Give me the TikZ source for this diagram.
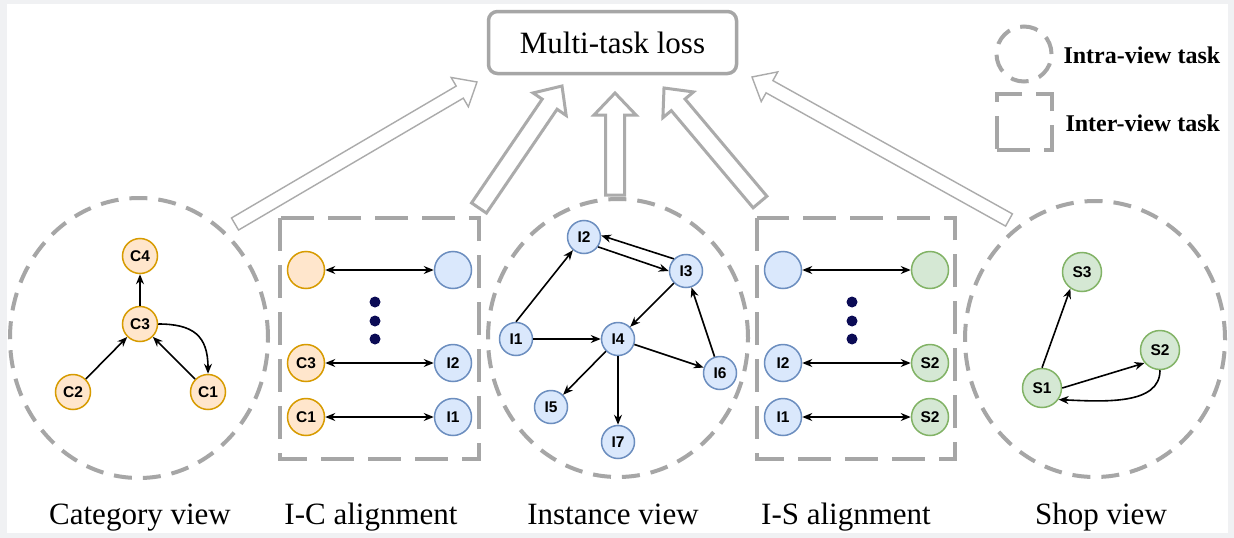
\documentclass[tikz,border=0pt]{standalone}
\usepackage{fontspec}
\setmainfont{Liberation Serif}
\newfontfamily\nodefont{Liberation Sans}
\usetikzlibrary{calc,arrows.meta}
\definecolor{dgray}{HTML}{A6A6A6}
\definecolor{agray}{HTML}{ABABAB}
\definecolor{ofill}{HTML}{FFE6CC}
\definecolor{odraw}{HTML}{D79B00}
\definecolor{bfill}{HTML}{DAE8FC}
\definecolor{bdraw}{HTML}{6C8EBF}
\definecolor{gfill}{HTML}{D5E8D4}
\definecolor{gdraw}{HTML}{82B366}
\definecolor{bgframe}{HTML}{F0F1F3}
\definecolor{navy}{HTML}{0B0B55}
\tikzset{
 vnode/.style={circle, line width=1.5pt, inner sep=0pt, font=\nodefont\bfseries\fontsize{15.5}{15.5}\selectfont},
 cat/.style={vnode, fill=ofill, draw=odraw, minimum size=35pt},
 ins/.style={vnode, fill=bfill, draw=bdraw, minimum size=33pt},
 shp/.style={vnode, fill=gfill, draw=gdraw, minimum size=39pt},
 acat/.style={cat, minimum size=37pt},
 ains/.style={ins, minimum size=37pt},
 ashp/.style={shp, minimum size=37pt},
 arr/.style={line width=1.6pt, -{Stealth[length=10pt,width=8pt]}},
 barr/.style={line width=1.6pt, {Stealth[length=10pt,width=8pt]}-{Stealth[length=10pt,width=8pt]}},
 viewring/.style={draw=dgray, line width=4pt, dash pattern=on 18pt off 11pt},
 taskbox/.style={draw=dgray, line width=4pt, dash pattern=on 33pt off 14pt},
 thinarrow/.style={draw=agray, line width=1.4pt, fill=white, line join=miter},
 thickarrow/.style={draw=agray, line width=3pt, fill=white, line join=miter},
 lbl/.style={font=\fontsize{31}{31}\selectfont, anchor=base},
 leg/.style={font=\bfseries\fontsize{24}{24}\selectfont, anchor=base west},
 blob/.style={circle, fill=navy, inner sep=0pt, minimum size=11pt},
}
% style, tail, tip, half shaft, half head, head length
\newcommand{\blockarr}[6]{%
 \coordinate (#2-#3-b) at ($(#3)!#6!(#2)$);
 \draw[#1] ($(#2)!#4!90:(#3)$) -- ($(#2-#3-b)!#4!90:(#3)$) -- ($(#2-#3-b)!#5!90:(#3)$)
   -- (#3) -- ($(#2-#3-b)!#5!-90:(#3)$) -- ($(#2-#3-b)!#4!-90:(#3)$) -- ($(#2)!#4!-90:(#3)$) -- cycle;
}
\begin{document}
\begin{tikzpicture}[x=1pt,y=-1pt]
\useasboundingbox (0,0) rectangle (1234,538);
\fill[bgframe] (0,0) rectangle (1234,538);
\fill[white] (7,4) rectangle (1228,533);

% view rings and task boxes
\draw[viewring] (139,338) ellipse [x radius=129pt, y radius=140pt];
\draw[viewring] (618,338) ellipse [x radius=130pt, y radius=139pt];
\draw[viewring] (1095,339) ellipse [x radius=130pt, y radius=138pt];
\draw[taskbox] (280,218) rectangle (479,459);
\draw[taskbox] (757,218) rectangle (955,459);

% loss box
\node[draw=dgray, line width=3.5pt, rounded corners=9pt, minimum width=248pt, minimum height=62pt,
  font=\fontsize{31}{31}\selectfont] (loss) at (612.5,42.5) {Multi-task loss};

% block arrows
\coordinate (a1t) at (235,224); \coordinate (a1p) at (477,82);
\coordinate (a2t) at (479,208); \coordinate (a2p) at (562,86);
\coordinate (a3t) at (615,195); \coordinate (a3p) at (615,93);
\coordinate (a4t) at (760,202); \coordinate (a4p) at (664,88);
\coordinate (a5t) at (1009,220); \coordinate (a5p) at (752,77);
\blockarr{thinarrow}{a1t}{a1p}{7pt}{17pt}{20pt}
\blockarr{thickarrow}{a2t}{a2p}{9pt}{20pt}{22pt}
\blockarr{thickarrow}{a3t}{a3p}{9.5pt}{21pt}{22pt}
\blockarr{thickarrow}{a4t}{a4p}{9pt}{20pt}{22pt}
\blockarr{thinarrow}{a5t}{a5p}{7pt}{17pt}{20pt}

% category view
\node[cat] (C4) at (140,256) {C4};
\node[cat] (C3) at (140,324) {C3};
\node[cat] (C2) at (73,392) {C2};
\node[cat] (C1) at (208,392) {C1};
\draw[arr] (C3) -- (C4);
\draw[arr] (C2) -- (C3);
\draw[arr] (C1) -- (C3);
\draw[arr] (C3.east) .. controls +(35,0) and +(0,-38) .. (C1.north);

% I-C alignment
\node[acat] (icl1) at (306,270) {};
\node[ains] (icr1) at (453,270) {};
\node[acat] (icl2) at (306,363) {C3};
\node[ains] (icr2) at (453,363) {I2};
\node[acat] (icl3) at (306,417) {C1};
\node[ains] (icr3) at (453,417) {I1};
\draw[barr] (icl1) -- (icr1);
\draw[barr] (icl2) -- (icr2);
\draw[barr] (icl3) -- (icr3);
\node[blob] (icd1) at (375,302) {};
\node[blob] (icd2) at (375,321) {};
\node[blob] (icd3) at (375,339) {};

% instance view
\node[ins] (I2) at (584,237) {I2};
\node[ins] (I3) at (686,271) {I3};
\node[ins] (I1) at (516,339) {I1};
\node[ins] (I4) at (618,339) {I4};
\node[ins] (I6) at (720,373) {I6};
\node[ins] (I5) at (551,407) {I5};
\node[ins] (I7) at (618,442) {I7};
\draw[arr] (I1.north) -- (I2.230);
\draw[arr] (I3.135) -- (I2.5);
\draw[arr] (I2.-35) -- (I3.180);
\draw[arr] (I1) -- (I4);
\draw[arr] (I3) -- (I4);
\draw[arr] (I4) -- (I5);
\draw[arr] (I4) -- (I7);
\draw[arr] (I4) -- (I6);
\draw[arr] (I6) -- (I3);

% I-S alignment
\node[ains] (isl1) at (783,270) {};
\node[ashp] (isr1) at (930,270) {};
\node[ains] (isl2) at (783,363) {I2};
\node[ashp] (isr2) at (930,363) {S2};
\node[ains] (isl3) at (783,417) {I1};
\node[ashp] (isr3) at (930,417) {S2};
\draw[barr] (isl1) -- (isr1);
\draw[barr] (isl2) -- (isr2);
\draw[barr] (isl3) -- (isr3);
\node[blob] (isd1) at (852,302) {};
\node[blob] (isd2) at (852,321) {};
\node[blob] (isd3) at (852,339) {};

% shop view
\node[shp] (S3) at (1082,272) {S3};
\node[shp] (S2) at (1160,350) {S2};
\node[shp] (S1) at (1042,388) {S1};
\draw[arr] (S1.north) -- (S3.235);
\draw[arr] (S1.east) -- (S2.220);
\draw[arr] (S2.south) .. controls +(0,35) and +(45,2) .. (S1.-35);

% legend
\node[viewring, circle, minimum size=55pt, inner sep=0pt] (legc) at (1024,54) {};
\node[taskbox, rectangle, minimum width=55pt, minimum height=56pt, inner sep=0pt] (legs) at (1024.5,122) {};
\node[leg] (legct) at (1060,63) {Intra-view task};
\node[leg] (legst) at (1062,131) {Inter-view task};

% labels
\node[lbl] (lcat) at (140,524) {Category view};
\node[lbl] (lic) at (371,524) {I-C alignment};
\node[lbl] (lins) at (613,524) {Instance view};
\node[lbl] (lis) at (846,524) {I-S alignment};
\node[lbl] (lshp) at (1101,524) {Shop view};
\end{tikzpicture}
\end{document}
